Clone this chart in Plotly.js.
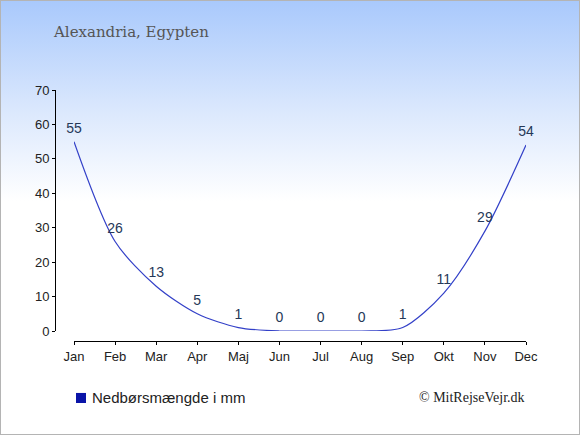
<!DOCTYPE html>
<html><head><meta charset="utf-8">
<script src="https://cdn.plot.ly/plotly-3.0.1.min.js"></script>
<style>
html,body{margin:0;padding:0;}
#wrap{position:relative;width:578px;height:433px;border:1px solid #b4b4b4;background:linear-gradient(to bottom,#a9c9fc 0px,#dbe8fd 110px,#ffffff 200px,#ffffff 433px);}
#chart{position:absolute;left:-1px;top:-1px;width:580px;height:435px;}
</style></head><body>
<div id="wrap"><div id="chart"></div></div>
<script>
var months = ["Jan","Feb","Mar","Apr","Maj","Jun","Jul","Aug","Sep","Okt","Nov","Dec"];
var precipitation = [55,26,13,5,1,0,0,0,1,11,29,54];
var yTicks = [0,10,20,30,40,50,60,70];
var seriesName = "Nedbørsmængde i mm";
var titleText = "Alexandria, Egypten";
var creditText = "© MitRejseVejr.dk";

var trace = {
  x: months, y: precipitation, type: 'scatter', mode: 'lines+markers+text',
  line: {color: '#3340c8', width: 1.2, shape: 'spline', smoothing: 0.8},
  marker: {size: 7, color: 'rgba(0,0,0,0)'},
  text: precipitation.map(String), textposition: 'top center',
  textfont: {family: 'Liberation Sans, Arial, sans-serif', size: 14, color: '#253858'},
  showlegend: false, cliponaxis: false, hoverinfo: 'skip'
};
var layout = {
  width: 580, height: 435,
  margin: {l: 55, r: 54, t: 90, b: 94},
  paper_bgcolor: 'rgba(0,0,0,0)', plot_bgcolor: 'rgba(0,0,0,0)',
  showlegend: false,
  xaxis: {
    type: 'category', range: [0, 11], domain: [19/471, 1],
    anchor: 'free', position: 0,
    showline: true, linecolor: '#000', linewidth: 1,
    ticks: 'outside', ticklen: 3, tickcolor: '#000',
    showgrid: false, zeroline: false,
    tickfont: {family: 'Liberation Sans, Arial, sans-serif', size: 13, color: '#222'}
  },
  yaxis: {
    range: [0, 70], domain: [10/251, 1],
    anchor: 'free', position: 0,
    tickvals: yTicks, ticktext: yTicks.map(String),
    showline: true, linecolor: '#000', linewidth: 1,
    ticks: 'outside', ticklen: 3, tickcolor: '#000',
    showgrid: false, zeroline: false,
    tickfont: {family: 'Liberation Sans, Arial, sans-serif', size: 13, color: '#222'}
  },
  shapes: [
    {type: 'rect', xref: 'paper', yref: 'paper', x0: 0.0446, x1: 0.0658, y0: -0.247, y1: -0.207,
     fillcolor: '#0a14a8', line: {width: 0}}
  ],
  annotations: [
    {text: titleText, xref: 'paper', yref: 'paper', x: -0.008, y: 1.231, xanchor: 'left', yanchor: 'middle', showarrow: false,
     font: {family: 'DejaVu Serif, Liberation Serif, serif', size: 15, color: '#555'}},
    {text: seriesName, xref: 'paper', yref: 'paper', x: 0.075, y: -0.227, xanchor: 'left', yanchor: 'middle', showarrow: false,
     font: {family: 'Liberation Sans, Arial, sans-serif', size: 15, color: '#222'}},
    {text: creditText, xref: 'paper', yref: 'paper', x: 1.003, y: -0.227, xanchor: 'right', yanchor: 'middle', showarrow: false,
     font: {family: 'Liberation Serif, serif', size: 14, color: '#222'}}
  ]
};
Plotly.newPlot('chart', [trace], layout, {displayModeBar: false, staticPlot: true});
</script>
</body></html>
